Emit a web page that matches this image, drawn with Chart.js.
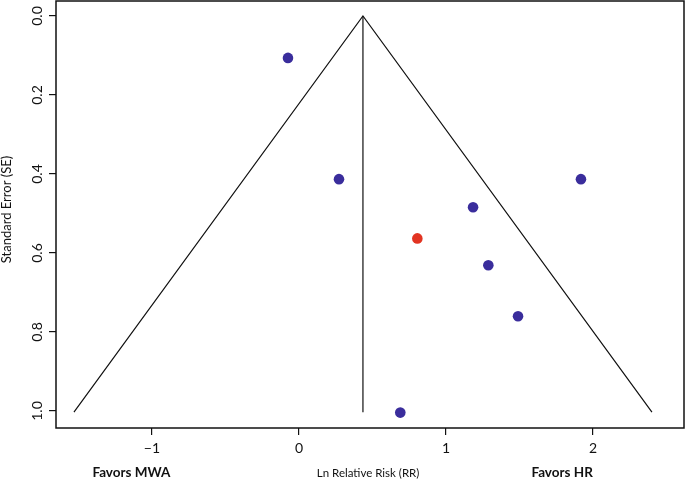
<!DOCTYPE html>
<html lang="en">
<head>
<meta charset="UTF-8">
<title>Funnel plot</title>
<script src="https://cdn.jsdelivr.net/npm/chart.js"></script>
<style>
  html, body { margin: 0; padding: 0; background: #fff; }
  #wrap { width: 685px; height: 481px; }
</style>
</head>
<body>
<div id="wrap"><canvas id="funnel" width="685" height="481"></canvas></div>
<script>
// studies: ln RR and its standard error
const lnRR = [-0.075, 0.272, 1.918, 1.184, 1.288, 1.490, 0.689];
const seRR = [0.106, 0.413, 0.413, 0.484, 0.631, 0.760, 1.004];
// highlighted study (red)
const redLnRR = [0.805];
const redSE = [0.563];

// pooled estimate and funnel limits
const pooled = 0.435;
const seMax = 1.003;
const funnelX = [pooled - 1.96 * seMax, pooled, pooled + 1.96 * seMax];
const funnelY = [seMax, 0, seMax];

const xTicks = [-1, 0, 1, 2];
const yTicks = [0, 0.2, 0.4, 0.6, 0.8, 1.0];

const FONT = "Lato, 'Open Sans', sans-serif";

const toPts = (xs, ys) => xs.map((v, i) => ({ x: v, y: ys[i] }));
const fmtX = v => (v < 0 ? '\u2212' + Math.abs(v) : String(v));

// box around the plot, tick labels (y ones rotated) and bottom captions
const decorations = {
    id: 'decorations',
    afterDraw(chart) {
        const ctx = chart.ctx;
        const a = chart.chartArea;
        const ys = chart.scales.y;
        const xs = chart.scales.x;
        ctx.save();
        ctx.strokeStyle = '#111';
        ctx.lineWidth = 1.5;
        ctx.strokeRect(a.left, a.top, a.right - a.left, a.bottom - a.top);

        ctx.fillStyle = '#111';
        ctx.textAlign = 'center';
        ctx.textBaseline = 'middle';
        ctx.font = '14px ' + FONT;
        yTicks.forEach(t => {
            ctx.save();
            ctx.translate(37, ys.getPixelForValue(t));
            ctx.rotate(-Math.PI / 2);
            ctx.fillText(t.toFixed(1), 0, 0);
            ctx.restore();
        });
        xTicks.forEach(t => {
            ctx.fillText(fmtX(t), xs.getPixelForValue(t), a.bottom + 20);
        });

        ctx.save();
        ctx.font = '13px ' + FONT;
        ctx.translate(7, (a.top + a.bottom) / 2 - 5);
        ctx.rotate(-Math.PI / 2);
        ctx.fillText('Standard Error (SE)', 0, 0);
        ctx.restore();

        const yCap = 473;
        ctx.font = 'bold 13.5px ' + FONT;
        ctx.fillText('Favors MWA', xs.getPixelForValue(-1.14), yCap);
        ctx.fillText('Favors HR', xs.getPixelForValue(1.79), yCap);
        ctx.font = '11.5px ' + FONT;
        ctx.fillText('Ln Relative Risk (RR)', xs.getPixelForValue(0.47), yCap);
        ctx.restore();
    }
};

const tickGrid = { drawOnChartArea: false, drawTicks: true, tickLength: 7, color: '#111', lineWidth: 1.2 };
const hiddenTicks = { color: 'rgba(0,0,0,0)', font: { size: 1 }, padding: 0, maxRotation: 0 };

new Chart(document.getElementById('funnel'), {
    type: 'scatter',
    data: {
        datasets: [
            {
                label: 'funnel',
                data: toPts(funnelX, funnelY),
                showLine: true,
                borderColor: '#111',
                borderWidth: 1.2,
                pointRadius: 0,
                tension: 0
            },
            {
                label: 'pooled',
                data: toPts([pooled, pooled], [0, seMax]),
                showLine: true,
                borderColor: '#111',
                borderWidth: 1.2,
                pointRadius: 0
            },
            {
                label: 'studies',
                data: toPts(lnRR, seRR),
                backgroundColor: '#3a2d9c',
                borderWidth: 0,
                pointRadius: 5.3
            },
            {
                label: 'highlight',
                data: toPts(redLnRR, redSE),
                backgroundColor: '#e23422',
                borderWidth: 0,
                pointRadius: 5.3
            }
        ]
    },
    plugins: [decorations],
    options: {
        responsive: false,
        animation: false,
        layout: { autoPadding: false, padding: { left: 0, top: 1, right: 1, bottom: 0 } },
        plugins: {
            legend: { display: false },
            tooltip: { enabled: false }
        },
        scales: {
            x: {
                type: 'linear',
                min: -1.653,
                max: 2.619,
                afterBuildTicks: s => { s.ticks = xTicks.map(v => ({ value: v })); },
                afterFit: s => { s.height = 53; s.paddingLeft = 0; s.paddingRight = 0; },
                grid: tickGrid,
                border: { display: false },
                ticks: hiddenTicks
            },
            y: {
                type: 'linear',
                reverse: true,
                min: -0.038,
                max: 1.043,
                afterBuildTicks: s => { s.ticks = yTicks.map(v => ({ value: v })); },
                afterFit: s => { s.width = 56; s.paddingTop = 0; s.paddingBottom = 0; },
                grid: tickGrid,
                border: { display: false },
                ticks: hiddenTicks
            }
        }
    }
});
</script>
</body>
</html>
